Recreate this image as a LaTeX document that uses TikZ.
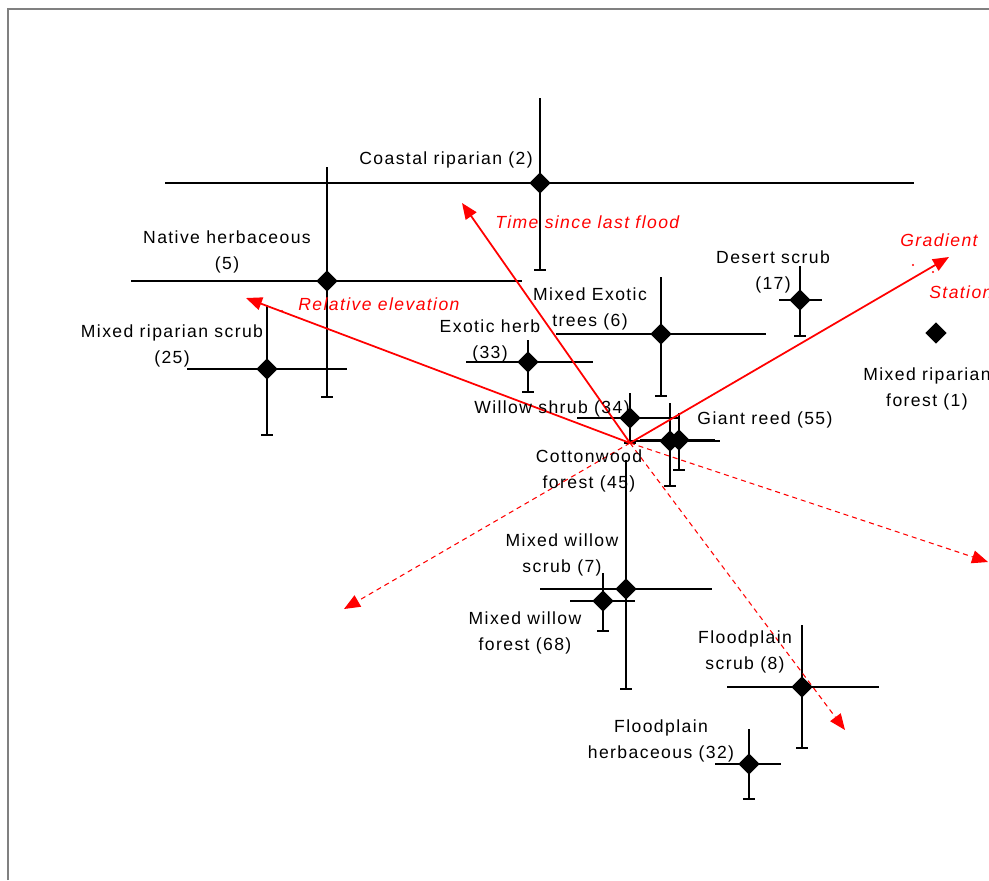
\documentclass[tikz,border=0pt]{standalone}
\usepackage{fontspec}
\setmainfont{Liberation Sans}[LetterSpace=8]
\usetikzlibrary{arrows.meta,shapes.geometric}

\begin{document}
\begin{tikzpicture}[x=0.02cm,y=-0.02cm,
    point/.style={
        diamond,
        fill=black,
        inner sep=0pt,
        minimum size=0.43cm},
    errbar/.style={black, line width=1.1pt},
    mylabel/.style={align=center, inner sep=0pt, font=\fontsize{10}{14.7}\selectfont},
    axislabel/.style={red, anchor=west, inner sep=0pt, font=\fontsize{10}{12}\selectfont\itshape},
    myaxis/.style={red, line width=1pt, -{Triangle[length=0.32cm,width=0.26cm]}},
    myaxisneg/.style={myaxis, line width=0.6pt, dash pattern=on 0.1cm off 0.08cm}
    ]
    \useasboundingbox (0,0) rectangle (989,880);
    \draw[gray, line width=1pt] (8,880) -- (8,9) -- (989,9);

    % error bars: name/x/y/left/right/top/bottom
    \foreach \n/\x/\y/\l/\r/\t/\b in {
        coast/540/183/165/914/98/270,
        native/327/281/131/522/167/397,
        mrs/267/369/187/347/305/435,
        desert/800/300/779/822/266/336,
        met/661/334/556/766/277/396,
        exh/528/362/466/593/340/392,
        willow/630/418/577/680/393/443,
        cotton/670/441/630/720/403/486,
        giant/679/440/640/715/413/470,
        mws/626/589/540/712/460/689,
        mwf/603/601/570/635/573/631,
        fps/802/687/727/879/625/748,
        fph/749/764/715/781/729/799}
    {
        \draw[errbar] (\l,\y) -- (\r,\y);
        \draw[errbar] (\x,\t) -- (\x,\b);
        \draw[errbar] (\x-6,\b) -- (\x+6,\b);
        \coordinate (\n) at (\x,\y);
    }
    \coordinate (mrf) at (936,333);

    % gradient axes
    \coordinate (o) at (630,443);
    \coordinate (time) at (462,203);
    \coordinate (elev) at (246,298);
    \coordinate (grad) at (949,257);
    \coordinate (timeneg) at (344,609);
    \coordinate (elevneg) at (988,562);
    \coordinate (gradneg) at (845,730);
    \foreach \e in {time,elev,grad}
        \draw[myaxis] (o) -- (\e);
    \foreach \e in {timeneg,elevneg,gradneg}
        \draw[myaxisneg] (o) -- (\e);

    \node[axislabel] (ltime) at (495,222) {Time since last flood};
    \node[axislabel] (lelev) at (298,304) {Relative elevation};
    \node[axislabel] (lgrad) at (900,240) {Gradient};
    \node[axislabel] (lstat) at (929,292) {Station};
    \foreach \p in {(913,265),(933,272),(282,311)}
        \fill[red] \p circle (1.2);

    % sites
    \foreach \n in {coast,native,mrs,desert,met,exh,willow,cotton,giant,mws,mwf,fps,fph,mrf}
        \node[point] at (\n) {};

    \node[mylabel] (lcoast) at (446,160) {Coastal riparian (2)};
    \node[mylabel] (lnative) at (227,252) {Native herbaceous\\(5)};
    \node[mylabel] (lmrs) at (172,346) {Mixed riparian scrub\\(25)};
    \node[mylabel] (ldesert) at (773,272) {Desert scrub\\(17)};
    \node[mylabel] (lmet) at (590,309) {Mixed Exotic\\trees (6)};
    \node[mylabel] (lexh) at (490,341) {Exotic herb\\(33)};
    \node[mylabel] (lwillow) at (552,409) {Willow shrub (34)};
    \node[mylabel] (lgiant) at (765,420) {Giant reed (55)};
    \node[mylabel] (lcotton) at (589,471) {Cottonwood\\forest (45)};
    \node[mylabel] (lmws) at (562,555) {Mixed willow\\scrub (7)};
    \node[mylabel] (lmwf) at (525,633) {Mixed willow\\forest (68)};
    \node[mylabel] (lfps) at (745,652) {Floodplain\\scrub (8)};
    \node[mylabel] (lfph) at (661,741) {Floodplain\\herbaceous (32)};
    \node[mylabel] (lmrf) at (927,389) {Mixed riparian\\forest (1)};
\end{tikzpicture}
\end{document}
